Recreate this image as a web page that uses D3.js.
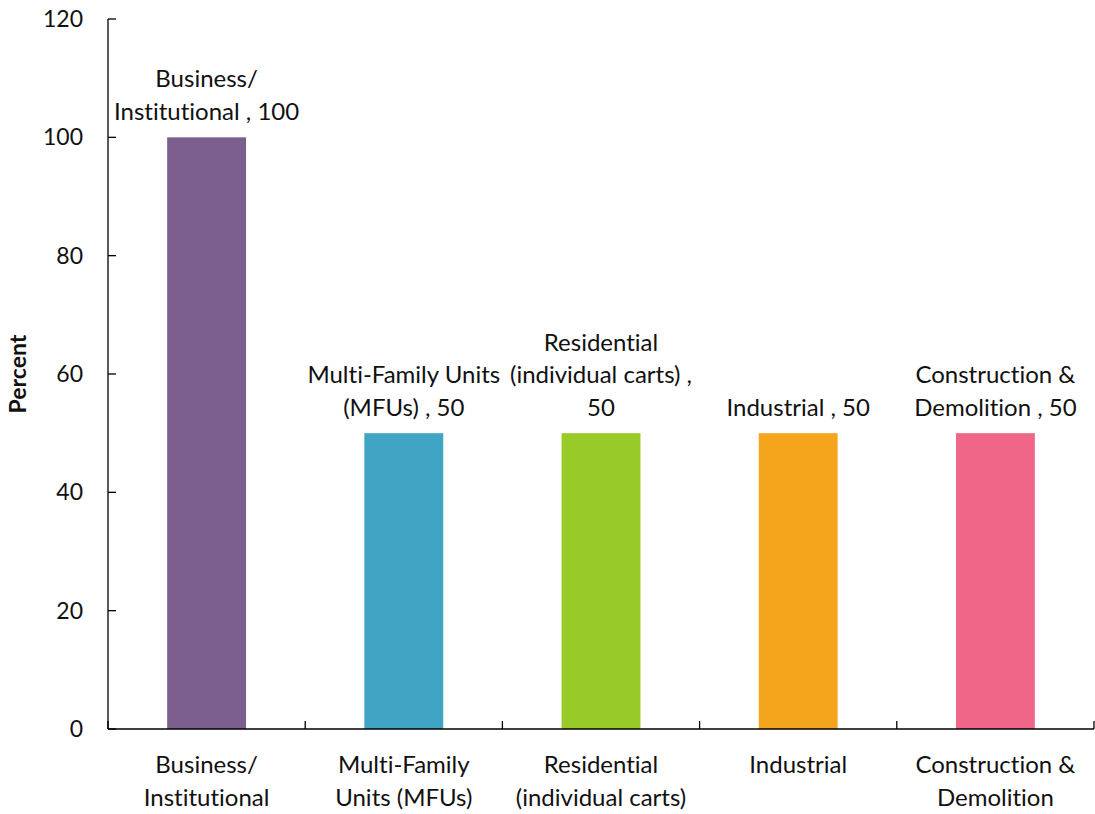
<!DOCTYPE html>
<html><head><meta charset="utf-8">
<script src="https://cdn.jsdelivr.net/npm/d3@7"></script>
<style>body{margin:0;background:#fff}svg{display:block;font-family:Lato,"Open Sans",sans-serif;font-variant-ligatures:none;font-feature-settings:"liga" 0}</style>
</head><body><svg id="c" width="1095" height="814"></svg>
<script>
const categories = ["Business/Institutional","Multi-Family Units (MFUs)","Residential (individual carts)","Industrial","Construction & Demolition"];
const values = [100,50,50,50,50];
const colors = ["#7C5F8E","#40A4C4","#98CA28","#F5A51C","#F06689"];
const axisLabelLines = [["Business/","Institutional"],["Multi-Family","Units (MFUs)"],["Residential","(individual carts)"],["Industrial"],["Construction &","Demolition"]];
const dataLabelLines = [["Business/","Institutional , 100"],["Multi-Family Units","(MFUs) , 50"],["Residential","(individual carts) ,","50"],["Industrial , 50"],["Construction &","Demolition , 50"]];
const yTicks = [0,20,40,60,80,100,120];
const yTitle = "Percent";

(function(){
const svg = d3.select("#c");
const L=108, R=1094, T=19, B=729;
const fs = 24;
const x = d3.scaleBand().domain(categories).range([L,R]).paddingInner(0.6).paddingOuter(0.3);
const y = d3.scaleLinear().domain([0,120]).range([B,T]);
const band = (R-L)/categories.length;

svg.selectAll("rect.bar").data(values).join("rect")
  .attr("x",(d,i)=>x(categories[i])).attr("width",x.bandwidth())
  .attr("y",d=>y(d)).attr("height",d=>y(0)-y(d)).attr("fill",(d,i)=>colors[i]);

const g = svg.append("g").attr("stroke","#000").attr("stroke-width",1.3);
g.append("line").attr("x1",L).attr("x2",L).attr("y1",T).attr("y2",B);
g.append("line").attr("x1",L).attr("x2",R).attr("y1",B).attr("y2",B);
yTicks.forEach(t=>g.append("line").attr("x1",L).attr("x2",L+8).attr("y1",y(t)).attr("y2",y(t)));
d3.range(categories.length+1).forEach(i=>g.append("line").attr("x1",L+i*band).attr("x2",L+i*band).attr("y1",B).attr("y2",B-8));

svg.selectAll("text.yt").data(yTicks).join("text").attr("class","yt")
  .attr("x",83).attr("y",d=>y(d)).attr("dy","0.35em").attr("text-anchor","end")
  .attr("font-size",23).attr("fill","#111").text(d=>d);

svg.append("text").attr("transform","translate(18,"+((T+B)/2)+") rotate(-90)")
  .attr("text-anchor","middle").attr("dy","0.35em").attr("font-size",23).attr("font-weight","bold").attr("fill","#111").text(yTitle);

const lh = 32.5;
categories.forEach((c,i)=>{
  const cx = x(c)+x.bandwidth()/2;
  const t = svg.append("text").attr("text-anchor","middle").attr("font-size",fs).attr("fill","#111");
  axisLabelLines[i].forEach((l,j)=>t.append("tspan").attr("x",cx).attr("y",765+j*lh).attr("dy","0.35em").text(l));
  const dl = dataLabelLines[i];
  const base = y(values[i]) - 26;
  const t2 = svg.append("text").attr("text-anchor","middle").attr("font-size",fs).attr("fill","#111");
  dl.forEach((l,j)=>t2.append("tspan").attr("x",cx).attr("y",base-(dl.length-1-j)*lh).attr("dy","0.35em").text(l));
});
})();
</script></body></html>
